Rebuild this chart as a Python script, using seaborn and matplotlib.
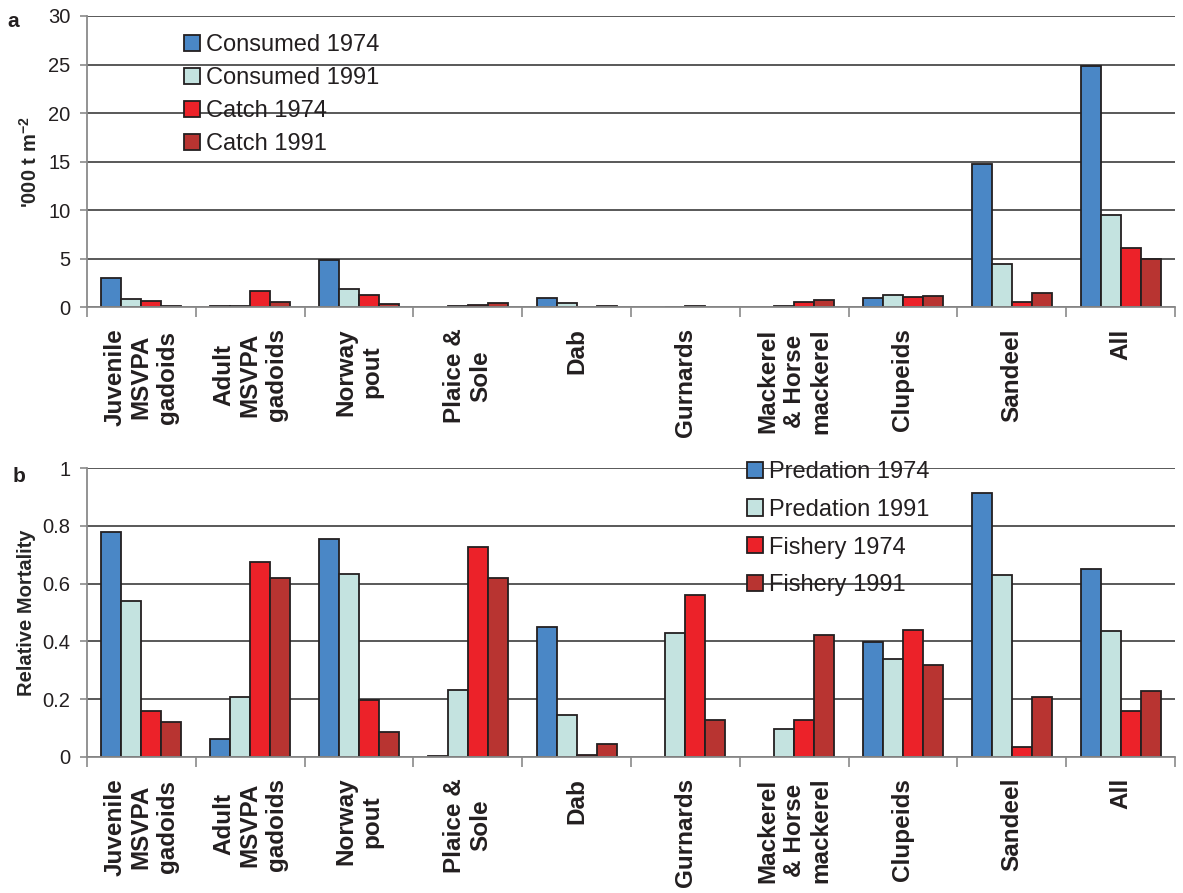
import numpy as np
import pandas as pd
import matplotlib
matplotlib.use("Agg")
import matplotlib.pyplot as plt
import seaborn as sns
from matplotlib.patches import Patch

nan = np.nan

# ---- data -------------------------------------------------------------
categories = [
    "Juvenile\nMSVPA\ngadoids", "Adult\nMSVPA\ngadoids", "Norway\npout",
    "Plaice &\nSole", "Dab", "Gurnards", "Mackerel\n& Horse\nmackerel",
    "Clupeids", "Sandeel", "All",
]

# panel a: '000 t m-2
consumed_1974 = [3.0, 0.15, 4.93, nan, 0.97, nan, nan, 0.97, 14.77, 24.86]
consumed_1991 = [0.83, 0.15, 1.93, 0.15, 0.48, 0.05, 0.17, 1.28, 4.47, 9.53]
catch_1974 = [0.62, 1.72, 1.28, 0.22, 0.07, 0.15, 0.55, 1.07, 0.52, 6.13]
catch_1991 = [0.20, 0.52, 0.31, 0.48, 0.17, nan, 0.76, 1.20, 1.45, 4.96]
series_a = ["Consumed 1974", "Consumed 1991", "Catch 1974", "Catch 1991"]

# panel b: relative mortality
predation_1974 = [0.777, 0.061, 0.754, 0.005, 0.450, nan, nan, 0.399, 0.915, 0.649]
predation_1991 = [0.540, 0.208, 0.633, 0.232, 0.145, 0.429, 0.096, 0.340, 0.631, 0.436]
fishery_1974 = [0.160, 0.675, 0.196, 0.726, 0.007, 0.560, 0.127, 0.438, 0.035, 0.160]
fishery_1991 = [0.121, 0.619, 0.088, 0.619, 0.045, 0.127, 0.421, 0.319, 0.207, 0.227]
series_b = ["Predation 1974", "Predation 1991", "Fishery 1974", "Fishery 1991"]

yticks_a = [0, 5, 10, 15, 20, 25, 30]
yticklabels_a = ["0", "5", "10", "15", "20", "25", "30"]
yticks_b = [0, 0.2, 0.4, 0.6, 0.8, 1.0]
yticklabels_b = ["0", "0.2", "0.4", "0.6", "0.8", "1"]

colors = ["#4A87C6", "#C4E3E0", "#EC2229", "#B83431"]

# ---- style ------------------------------------------------------------
sns.set_style("white")
plt.rcParams["font.family"] = ["Liberation Sans", "DejaVu Sans"]
plt.rcParams["mathtext.fontset"] = "custom"
plt.rcParams["mathtext.rm"] = "Liberation Sans"
plt.rcParams["mathtext.bf"] = "Liberation Sans:bold"
plt.rcParams["text.color"] = "#231F20"

EDGE = "#231F20"
GRID = "#3C3C3C"
SPINE = "#8A8A8A"


def long_frame(series_values, names):
    rows = []
    for name, vals in zip(names, series_values):
        for cat, v in zip(categories, vals):
            rows.append({"category": cat, "series": name, "value": v})
    return pd.DataFrame(rows).dropna()


def draw_panel(ax, df, names, ylim, yticks, yticklabels, ylabel, label_x):
    sns.barplot(
        data=df, x="category", y="value", hue="series",
        order=categories, hue_order=names, palette=colors,
        width=0.735, saturation=1, errorbar=None, legend=False,
        edgecolor=EDGE, linewidth=1.3, ax=ax,
    )
    ax.set_xlim(-0.5, len(categories) - 0.5)
    ax.set_ylim(*ylim)
    ax.set_yticks(yticks)
    ax.set_yticklabels(yticklabels, fontsize=14.5, color="#231F20")
    ax.yaxis.grid(True, color=GRID, linewidth=1.2)
    ax.xaxis.grid(False)
    ax.set_axisbelow(True)
    for side in ("top", "right"):
        ax.spines[side].set_visible(False)
    for side in ("left", "bottom"):
        ax.spines[side].set_color(SPINE)
        ax.spines[side].set_linewidth(1.3)
    ax.tick_params(axis="y", which="major", length=5, width=1.2,
                   color=SPINE, pad=7, left=True, direction="out")

    # category labels at centres, tick marks at group boundaries
    ax.set_xticks(range(len(categories)))
    ax.set_xticklabels(categories, rotation=90, fontsize=17.5,
                       fontweight="bold", va="top", ha="center",
                       multialignment="center", color="#231F20")
    ax.tick_params(axis="x", which="major", length=0, pad=15)
    ax.set_xticks(np.arange(-0.5, len(categories), 1.0), minor=True)
    ax.tick_params(axis="x", which="minor", length=7, width=1.2,
                   color=SPINE, bottom=True, direction="out")
    ax.set_xlabel("")
    ax.set_ylabel(ylabel, fontsize=14.5, fontweight="bold")
    ax.yaxis.set_label_coords(label_x, 0.5)


fig = plt.figure(figsize=(11.83, 8.93), dpi=100)
ax_a = fig.add_axes([0.0735, 0.6557, 0.9197, 0.3264])
ax_b = fig.add_axes([0.0735, 0.1523, 0.9197, 0.3236])

df_a = long_frame([consumed_1974, consumed_1991, catch_1974, catch_1991], series_a)
df_b = long_frame([predation_1974, predation_1991, fishery_1974, fishery_1991], series_b)

draw_panel(ax_a, df_a, series_a, (0, 30), yticks_a, yticklabels_a,
           "'000 t m$^{\\mathbf{-2}}$", -0.042)
draw_panel(ax_b, df_b, series_b, (0, 1), yticks_b, yticklabels_b,
           "Relative Mortality", -0.047)


def add_legend(ax, names, anchor, spacing):
    handles = [Patch(facecolor=c, edgecolor=EDGE, linewidth=1.3) for c in colors]
    leg = ax.legend(handles, names, loc="upper left", bbox_to_anchor=anchor,
                    bbox_transform=fig.transFigure, frameon=False,
                    fontsize=17, handlelength=0.68, handleheight=0.68,
                    handletextpad=0.25, labelspacing=spacing,
                    borderpad=0, borderaxespad=0)
    for t in leg.get_texts():
        t.set_color("#231F20")
    return leg


add_legend(ax_a, series_a, (0.1555, 0.9620), 0.47)
add_legend(ax_b, series_b, (0.6315, 0.4838), 0.67)

fig.text(7 / 1183, 1 - 27 / 893, "a", fontsize=15, fontweight="bold")
fig.text(13 / 1183, 1 - 482 / 893, "b", fontsize=15, fontweight="bold")

fig.savefig("out.png", dpi=100)
